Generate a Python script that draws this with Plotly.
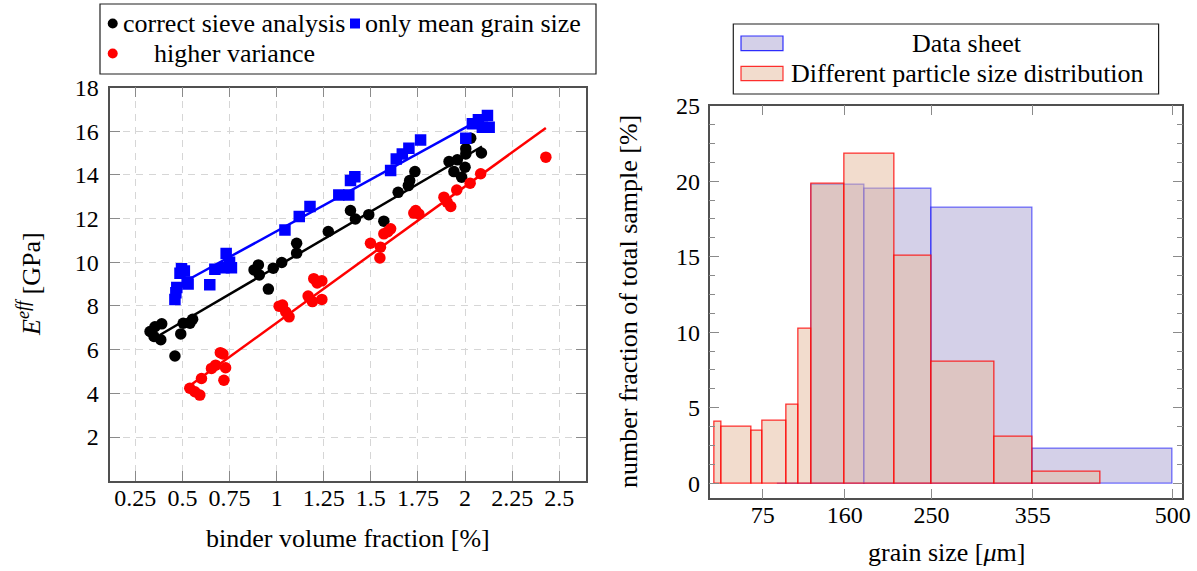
import plotly.graph_objects as go

# ---------------- data: left panel ----------------
sieve_x = [0.328, 0.349, 0.354, 0.385, 0.39, 0.46, 0.491, 0.504, 0.54, 0.554,
           0.88, 0.903, 0.908, 0.956, 0.982, 1.027, 1.106, 1.106, 1.274, 1.392,
           1.418, 1.489, 1.569, 1.645, 1.699, 1.706, 1.734, 1.915, 1.941, 1.959,
           1.982, 2.0, 2.004, 2.004, 2.03, 2.087]
sieve_y = [6.83, 6.6, 7.05, 6.45, 7.18, 5.71, 6.72, 7.21, 7.21, 7.39,
           9.65, 9.88, 9.42, 8.77, 9.73, 9.99, 10.87, 10.42, 11.41, 12.37,
           11.98, 12.18, 11.88, 13.2, 13.51, 13.74, 14.15, 14.61, 14.15, 14.69,
           13.89, 14.35, 14.96, 15.2, 15.68, 15.0]

mean_x = [0.46, 0.465, 0.47, 0.487, 0.495, 0.51, 0.525, 0.53, 0.645, 0.672,
          0.72, 0.732, 0.75, 0.76, 1.044, 1.12, 1.177, 1.33, 1.383, 1.392,
          1.415, 1.605, 1.635, 1.667, 1.702, 1.764, 2.004, 2.039, 2.071, 2.092,
          2.119, 2.128]
mean_y = [8.3, 8.6, 8.85, 9.5, 9.7, 9.6, 9.1, 9.0, 8.97, 9.68,
          9.75, 10.4, 10.0, 9.75, 11.48, 12.09, 12.55, 13.08, 13.08, 13.74,
          13.92, 14.2, 14.73, 14.96, 15.22, 15.6, 15.68, 16.34, 16.52, 16.18,
          16.72, 16.18]

var_x = [0.539, 0.566, 0.592, 0.601, 0.654, 0.676, 0.701, 0.715, 0.729, 0.72,
         1.013, 1.031, 1.048, 1.066, 1.167, 1.19, 1.197, 1.215, 1.24, 1.24,
         1.498, 1.548, 1.551, 1.569, 1.59, 1.605, 1.728, 1.738, 1.755, 1.888,
         1.905, 1.924, 1.956, 2.027, 2.083, 2.429]
var_y = [4.23, 4.07, 3.92, 4.68, 5.14, 5.29, 5.86, 5.8, 5.17, 4.6,
         7.99, 8.04, 7.73, 7.5, 8.45, 8.2, 9.25, 9.05, 9.15, 8.3,
         10.87, 10.2, 10.69, 11.3, 11.4, 11.53, 12.25, 12.37, 12.21, 12.98,
         12.75, 12.55, 13.31, 13.62, 14.05, 14.81]

# fitted lines (end points)
sieve_fit_x = [0.38, 2.09]
sieve_fit_y = [6.67, 15.3]
mean_fit_x = [0.513, 2.03]
mean_fit_y = [9.12, 16.3]
var_fit_x = [0.531, 2.429]
var_fit_y = [4.30, 16.15]

left_xticks = [0.25, 0.5, 0.75, 1, 1.25, 1.5, 1.75, 2, 2.25, 2.5]
left_xticklabels = ["0.25", "0.5", "0.75", "1", "1.25", "1.5", "1.75", "2", "2.25", "2.5"]
left_yticks = [2, 4, 6, 8, 10, 12, 14, 16, 18]

# ---------------- data: right panel ----------------
sheet_edges = [90, 125, 180, 250, 355, 500]
sheet_vals = [0.0, 19.75, 19.5, 18.25, 2.3]

diff_edges = [25, 32, 63, 75, 100, 112, 125, 160, 212, 250, 315, 355, 425]
diff_vals = [4.07, 3.75, 3.48, 4.17, 5.18, 10.25, 19.82, 21.82, 15.08, 8.04, 3.08, 0.77]

right_xticks = [75, 160, 250, 355, 500]
right_yticks = [0, 5, 10, 15, 20, 25]

# ---------------- helpers ----------------
W, H = 1197, 571
FONT = "Liberation Serif"


def px(x):
    return x / W


def py(y):
    return 1 - y / H


fig = go.Figure()

# left scatter
fig.add_trace(go.Scatter(x=sieve_fit_x, y=sieve_fit_y, mode="lines",
                         line=dict(color="black", width=2.5), xaxis="x", yaxis="y",
                         showlegend=False, hoverinfo="skip"))
fig.add_trace(go.Scatter(x=mean_fit_x, y=mean_fit_y, mode="lines",
                         line=dict(color="#0000ff", width=2.5), xaxis="x", yaxis="y",
                         showlegend=False, hoverinfo="skip"))
fig.add_trace(go.Scatter(x=var_fit_x, y=var_fit_y, mode="lines",
                         line=dict(color="#ff0000", width=2.5), xaxis="x", yaxis="y",
                         showlegend=False, hoverinfo="skip"))
fig.add_trace(go.Scatter(x=sieve_x, y=sieve_y, mode="markers", name="correct sieve analysis",
                         marker=dict(color="black", size=11.5, symbol="circle"),
                         xaxis="x", yaxis="y", showlegend=False))
fig.add_trace(go.Scatter(x=mean_x, y=mean_y, mode="markers", name="only mean grain size",
                         marker=dict(color="#0000ff", size=11.5, symbol="square"),
                         xaxis="x", yaxis="y", showlegend=False))
fig.add_trace(go.Scatter(x=var_x, y=var_y, mode="markers", name="higher variance",
                         marker=dict(color="#ff0000", size=11.5, symbol="circle"),
                         xaxis="x", yaxis="y", showlegend=False))

# right histogram bars
sheet_c = [(a + b) / 2 for a, b in zip(sheet_edges[:-1], sheet_edges[1:])]
sheet_w = [b - a for a, b in zip(sheet_edges[:-1], sheet_edges[1:])]
diff_c = [(a + b) / 2 for a, b in zip(diff_edges[:-1], diff_edges[1:])]
diff_w = [b - a for a, b in zip(diff_edges[:-1], diff_edges[1:])]

BLUE_FILL = "rgba(169,161,209,0.5)"
BLUE_LINE = "rgba(0,0,255,0.55)"
RED_FILL = "rgba(229,185,155,0.5)"
RED_LINE = "rgba(255,0,0,0.8)"

fig.add_trace(go.Bar(x=sheet_c, y=sheet_vals, width=sheet_w, name="Data sheet",
                     marker=dict(color=BLUE_FILL, line=dict(color=BLUE_LINE, width=1.3)),
                     xaxis="x2", yaxis="y2", showlegend=False))
fig.add_trace(go.Bar(x=diff_c, y=diff_vals, width=diff_w, name="Different particle size distribution",
                     marker=dict(color=RED_FILL, line=dict(color=RED_LINE, width=1.3)),
                     xaxis="x2", yaxis="y2", showlegend=False))

axis_common = dict(showline=True, linecolor="#505050", linewidth=1.5, mirror="ticks",
                   ticks="inside", tickcolor="#8a8a8a", tickwidth=1.2, ticklen=10,
                   zeroline=False, automargin=False,
                   tickfont=dict(family=FONT, size=24, color="black"))

fig.update_layout(
    width=W, height=H,
    margin=dict(l=0, r=0, t=0, b=0),
    paper_bgcolor="white", plot_bgcolor="white",
    barmode="overlay", bargap=0,
    font=dict(family=FONT, color="black"),
    xaxis=dict(domain=[px(110.3), px(585.8)], range=[0.117, 2.641],
               tickvals=left_xticks, ticktext=left_xticklabels,
               showgrid=True, gridcolor="#d6d6d6", gridwidth=1, griddash="7px,6px",
               anchor="y", ticklabelstandoff=-5, **axis_common),
    yaxis=dict(domain=[py(480.7), py(87.5)], range=[0, 18],
               tickvals=left_yticks,
               showgrid=True, gridcolor="#d6d6d6", gridwidth=1, griddash="7px,6px",
               anchor="x", ticklabelstandoff=5, **axis_common),
    xaxis2=dict(domain=[px(709.5), px(1182.3)], range=[19.7, 510],
                tickvals=right_xticks, showgrid=False,
                anchor="y2", ticklabelstandoff=-6, **axis_common),
    yaxis2=dict(domain=[py(498.3), py(105.7)], range=[-1, 25],
                tickvals=right_yticks, showgrid=False,
                minor=dict(dtick=1.25, tick0=0, ticks="inside", ticklen=6,
                           tickcolor="#8a8a8a", tickwidth=1.2, showgrid=False),
                anchor="x2", ticklabelstandoff=3, **axis_common),
)

shapes = []
annotations = []

TXT = 26

# axis titles
annotations.append(dict(text="binder volume fraction [%]", x=px(348), y=py(538),
                        xref="paper", yref="paper", showarrow=False,
                        font=dict(family=FONT, size=TXT), xanchor="center", yanchor="middle"))
annotations.append(dict(text="<i>E</i><sup><i>eff</i></sup> [GPa]", x=px(29), y=py(284),
                        xref="paper", yref="paper", showarrow=False, textangle=-90,
                        font=dict(family=FONT, size=TXT), xanchor="center", yanchor="middle"))
annotations.append(dict(text="grain size [<i>μ</i>m]", x=px(946), y=py(552),
                        xref="paper", yref="paper", showarrow=False,
                        font=dict(family=FONT, size=TXT), xanchor="center", yanchor="middle"))
annotations.append(dict(text="number fraction of total sample [%]", x=px(628), y=py(302),
                        xref="paper", yref="paper", showarrow=False, textangle=-90,
                        font=dict(family=FONT, size=TXT), xanchor="center", yanchor="middle"))

# left legend (manual)
shapes.append(dict(type="rect", xref="paper", yref="paper",
                   x0=px(100), x1=px(596), y0=py(74), y1=py(4),
                   line=dict(color="#202020", width=1.2), fillcolor="white"))
r = 5
shapes.append(dict(type="circle", xref="paper", yref="paper",
                   x0=px(112.7 - r), x1=px(112.7 + r), y0=py(23.5 + r), y1=py(23.5 - r),
                   fillcolor="black", line=dict(width=0)))
shapes.append(dict(type="rect", xref="paper", yref="paper",
                   x0=px(355 - 5), x1=px(355 + 5), y0=py(23.5 + 5), y1=py(23.5 - 5),
                   fillcolor="#0000ff", line=dict(width=0)))
shapes.append(dict(type="circle", xref="paper", yref="paper",
                   x0=px(112.7 - r), x1=px(112.7 + r), y0=py(53.5 + r), y1=py(53.5 - r),
                   fillcolor="#ff0000", line=dict(width=0)))
annotations.append(dict(text="correct sieve analysis", x=px(121), y=py(23.5),
                        xref="paper", yref="paper", showarrow=False,
                        font=dict(family=FONT, size=TXT), xanchor="left", yanchor="middle"))
annotations.append(dict(text="only mean grain size", x=px(363), y=py(23.5),
                        xref="paper", yref="paper", showarrow=False,
                        font=dict(family=FONT, size=TXT), xanchor="left", yanchor="middle"))
annotations.append(dict(text="higher variance", x=px(234), y=py(53.5),
                        xref="paper", yref="paper", showarrow=False,
                        font=dict(family=FONT, size=TXT), xanchor="center", yanchor="middle"))

# right legend (manual)
shapes.append(dict(type="rect", xref="paper", yref="paper",
                   x0=px(733.3), x1=px(1158.6), y0=py(94), y1=py(24),
                   line=dict(color="#202020", width=1.2), fillcolor="white"))
shapes.append(dict(type="rect", xref="paper", yref="paper",
                   x0=px(741), x1=px(783), y0=py(50.7), y1=py(36),
                   fillcolor=BLUE_FILL, line=dict(color="rgba(0,0,255,0.8)", width=1.2)))
shapes.append(dict(type="rect", xref="paper", yref="paper",
                   x0=px(741), x1=px(783), y0=py(80.7), y1=py(66.3),
                   fillcolor=RED_FILL, line=dict(color="rgba(255,0,0,0.8)", width=1.2)))
annotations.append(dict(text="Data sheet", x=px(967), y=py(43.5),
                        xref="paper", yref="paper", showarrow=False,
                        font=dict(family=FONT, size=TXT), xanchor="center", yanchor="middle"))
annotations.append(dict(text="Different particle size distribution", x=px(967), y=py(73.5),
                        xref="paper", yref="paper", showarrow=False,
                        font=dict(family=FONT, size=TXT), xanchor="center", yanchor="middle"))

fig.update_layout(shapes=shapes, annotations=annotations)

fig.write_html("out.html")
